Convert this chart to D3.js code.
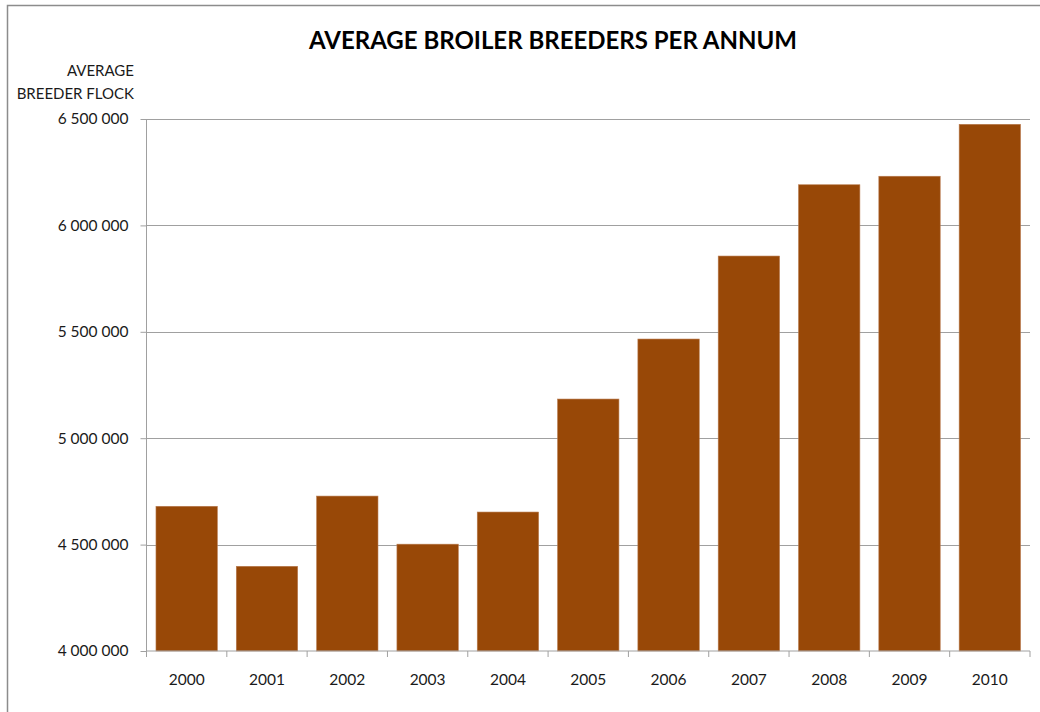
<!DOCTYPE html>
<html><head><meta charset="utf-8">
<script src="https://cdn.jsdelivr.net/npm/d3@7"></script>
<style>body{margin:0;background:#fff}svg{display:block;font-family:Lato,'Open Sans',sans-serif}</style>
</head><body>
<script>
const years = ["2000","2001","2002","2003","2004","2005","2006","2007","2008","2009","2010"];
const flock = [4680000,4398000,4728000,4502000,4653000,5184000,5466000,5856000,6191000,6231000,6475000];
const yTicks = [4000000,4500000,5000000,5500000,6000000,6500000];
const titleText = "AVERAGE BROILER BREEDERS PER ANNUM";
const yLabelLines = ["AVERAGE","BREEDER FLOCK"];

const W=1040,H=712;
const m={left:146.5,right:1030,top:119,bottom:651};
const svg=d3.select("body").append("svg").attr("width",W).attr("height",H);
svg.append("rect").attr("x",7.5).attr("y",5.5).attr("width",1060).attr("height",760)
  .attr("fill","#fff").attr("stroke","#8c8c8c").attr("stroke-width",1.5);

const x=d3.scaleBand().domain(years).range([m.left,m.right]).paddingInner(0.236).paddingOuter(0.118);
const y=d3.scaleLinear().domain([4000000,6500000]).range([m.bottom,m.top]);
const fmt=v=>d3.format(",")(v).replace(/,/g," ");

// gridlines
svg.append("g").selectAll("line").data(yTicks.slice(1)).join("line")
  .attr("x1",m.left).attr("x2",m.right).attr("y1",d=>Math.round(y(d))+0.5).attr("y2",d=>Math.round(y(d))+0.5)
  .attr("stroke","#a0a0a0").attr("stroke-width",1);

// bars
svg.append("g").selectAll("rect").data(years).join("rect")
  .attr("x",d=>x(d)).attr("width",x.bandwidth())
  .attr("y",(d,i)=>y(flock[i])).attr("height",(d,i)=>y(4000000)-y(flock[i]))
  .attr("fill","#984807").attr("stroke","#b87a4e").attr("stroke-width",0.6);

// y axis
const ya=svg.append("g").attr("transform",`translate(${m.left},0)`)
  .call(d3.axisLeft(y).tickValues(yTicks).tickFormat(fmt).tickSize(6).tickPadding(12));
ya.select(".domain").attr("stroke","#a0a0a0").attr("d",`M0,${m.top}V${m.bottom}`);
ya.selectAll(".tick line").attr("stroke","#a0a0a0");
ya.selectAll("text").attr("font-size",15.5).attr("fill","#1a1a1a").attr("font-family","Lato,'Open Sans',sans-serif");

// x axis
const xa=svg.append("g").attr("transform",`translate(0,${m.bottom})`)
  .call(d3.axisBottom(x).tickSize(0).tickPadding(23));
xa.select(".domain").attr("stroke","#a0a0a0").attr("d",`M${m.left},0H${m.right}`);
xa.selectAll("text").attr("font-size",15.5).attr("fill","#1a1a1a").attr("font-family","Lato,'Open Sans',sans-serif");
const edges=years.map(d=>x(d)-x.step()*x.paddingInner()/2).concat([m.right]);
xa.selectAll(".sep").data(edges).join("line").attr("class","sep")
  .attr("x1",d=>d).attr("x2",d=>d).attr("y1",0).attr("y2",6).attr("stroke","#a0a0a0");

// title
svg.append("text").attr("x",553).attr("y",49).attr("text-anchor","middle")
  .attr("font-size",24).attr("font-weight","bold").attr("fill","#000").text(titleText);

// y label
svg.append("g").selectAll("text").data(yLabelLines).join("text")
  .attr("x",134).attr("y",(d,i)=>76+i*23).attr("text-anchor","end")
  .attr("font-size",15).attr("fill","#1a1a1a").text(d=>d);
</script>
</body></html>
